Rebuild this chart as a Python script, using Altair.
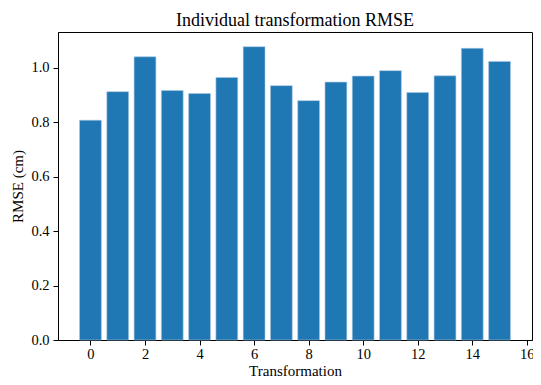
import altair as alt
import pandas as pd

transformations = list(range(16))
rmse = [0.807, 0.912, 1.040, 0.916, 0.905, 0.964, 1.077, 0.934,
        0.879, 0.947, 0.969, 0.989, 0.909, 0.970, 1.071, 1.023]
x_ticks = [0, 2, 4, 6, 8, 10, 12, 14, 16]
y_ticks = [0.0, 0.2, 0.4, 0.6, 0.8, 1.0]

df = pd.DataFrame({"t": transformations, "rmse": rmse})

FONT = "Liberation Serif"

chart = alt.Chart(df).transform_calculate(
    x0="datum.t - 0.4", x1="datum.t + 0.4"
).mark_rect(color="#1f77b4", stroke="#a9c8e2", strokeWidth=0.6).encode(
    x=alt.X("x0:Q", title="Transformation",
            scale=alt.Scale(domain=[-1.19, 16.19], nice=False, zero=False),
            axis=alt.Axis(values=x_ticks, format="d", grid=False,
                          labelPadding=2, titleY=35, titleBaseline="alphabetic")),
    x2="x1:Q",
    y=alt.Y("rmse:Q", title="RMSE (cm)",
            scale=alt.Scale(domain=[0, 1.131], nice=False),
            axis=alt.Axis(values=y_ticks, format=".1f", grid=False,
                          labelPadding=4, titlePadding=5)),
).properties(
    width=474, height=308,
    title=alt.Title("Individual transformation RMSE", font=FONT, fontSize=18,
                    fontWeight="normal", color="black", offset=2),
    autosize=alt.AutoSizeParams(type="none"),
    padding={"left": 50, "top": 24, "right": 1, "bottom": 37},
).configure_view(
    stroke="black", strokeWidth=1
).configure_axis(
    domainColor="black", tickColor="black", labelColor="black", titleColor="black",
    labelFont=FONT, titleFont=FONT, labelFontSize=14.5, titleFontSize=15,
    titleFontWeight="normal", tickSize=5,
)

chart.save("out.html", embed_options={"renderer": "svg", "actions": False})
